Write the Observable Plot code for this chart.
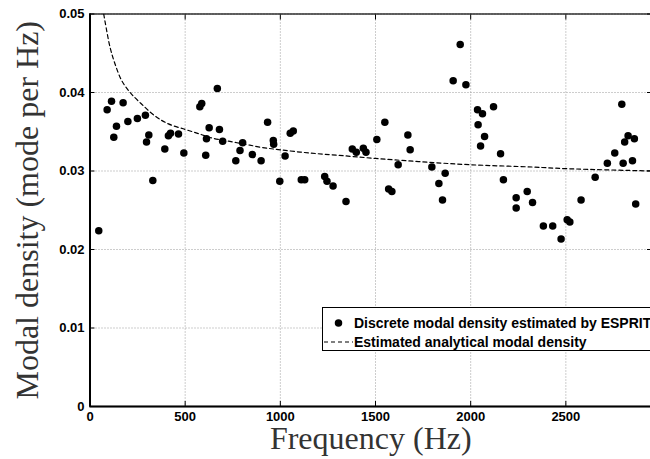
<!DOCTYPE html>
<html><head><meta charset="utf-8">
<script src="https://cdn.jsdelivr.net/npm/d3@7"></script>
<script src="https://cdn.jsdelivr.net/npm/@observablehq/plot@0.6"></script>
<style>
html,body{margin:0;padding:0;background:#fff;overflow:hidden;width:650px;height:459px}
#wrap{position:relative;width:650px;height:459px;overflow:hidden}
#wrap > svg{display:block;max-width:none !important;height:459px !important}
#legend{position:absolute;left:322px;top:307px;width:345px;height:44px;border:1px solid #000;background:#fff;box-sizing:border-box;font:bold 14px "Liberation Sans",Arial,sans-serif;color:#000}
#legend .row{position:absolute;left:0;height:18px;display:flex;align-items:center;white-space:nowrap}
#legend .row svg{display:block;flex:none}
</style></head><body><div id="wrap"></div>
<script>
// Discrete modal density estimated by ESPRIT
const freqs = [46,90,113,125,139,174,199,249,291,297,309,330,393,412,423,465,493,577,587,608,612,626,669,680,697,766,788,802,853,899,933,963,965,997,1025,1052,1068,1110,1128,1233,1245,1277,1345,1378,1399,1436,1450,1507,1549,1569,1586,1619,1670,1682,1796,1833,1852,1866,1908,1945,1975,2036,2039,2052,2062,2073,2120,2157,2172,2239,2239,2297,2325,2382,2431,2475,2507,2521,2580,2654,2718,2757,2794,2801,2809,2827,2850,2860,2867];
const densities = [0.0224,0.0378,0.0389,0.0343,0.0357,0.0387,0.0363,0.0367,0.0371,0.0337,0.0346,0.0288,0.0328,0.0345,0.0348,0.0347,0.0323,0.0382,0.0386,0.0320,0.0341,0.0355,0.0405,0.0353,0.0338,0.0313,0.0326,0.0336,0.0321,0.0313,0.0362,0.0339,0.0334,0.0287,0.0319,0.0348,0.0351,0.0289,0.0289,0.0293,0.0287,0.0281,0.0261,0.0328,0.0324,0.0329,0.0324,0.0340,0.0362,0.0277,0.0274,0.0308,0.0346,0.0327,0.0305,0.0284,0.0263,0.0297,0.0415,0.0461,0.0410,0.0378,0.0359,0.0332,0.0373,0.0344,0.0382,0.0322,0.0289,0.0266,0.0253,0.0274,0.0260,0.0230,0.0230,0.02135,0.0238,0.0235,0.0263,0.0292,0.0310,0.0323,0.0385,0.0310,0.0337,0.0345,0.0313,0.0341,0.0258];
// Estimated analytical modal density
const curveFreqs = [72,80,106,132,167,211,272,342,412,500,578,641,729,816,904,1000,1149,1306,1499,1726,1997,2330,2498,2950];
const curveDensities = [0.0500,0.0489,0.0457,0.0436,0.0415,0.0400,0.0385,0.0370,0.0360,0.0353,0.0347,0.0342,0.0338,0.0334,0.0330,0.0327,0.0323,0.0320,0.0316,0.0312,0.0308,0.0305,0.0303,0.0300];
const xTicks = [0,500,1000,1500,2000,2500];
const yTicks = [0,0.01,0.02,0.03,0.04,0.05];
const xTickLabels = ["0","500","1000","1500","2000","2500"];
const yTickLabels = ["0","0.01","0.02","0.03","0.04","0.05"];
const xLabel = "Frequency (Hz)";
const yLabel = "Modal density (mode per Hz)";
const legendLabels = ["Discrete modal density estimated by ESPRIT","Estimated analytical modal density"];

const points = freqs.map((f,i)=>({f, d: densities[i]}));
const curve = curveFreqs.map((f,i)=>({f, d: curveDensities[i]}));
const serif = "'Liberation Serif','Times New Roman',serif";
const sans = "'Liberation Sans',Arial,sans-serif";

const chart = Plot.plot({
  width: 653, height: 459,
  marginLeft: 89.5, marginRight: 2, marginTop: 13.5, marginBottom: 53,
  style: {fontFamily: sans, fontSize: "13px", color: "#000", background: "#fff"},
  x: {domain: [0, 2950]},
  y: {domain: [0, 0.05]},
  marks: [
    Plot.gridX(xTicks.slice(1), {stroke: "#9a9a9a", strokeOpacity: 1, strokeDasharray: "1,2", strokeWidth: 1}),
    Plot.gridY(yTicks.slice(1), {stroke: "#9a9a9a", strokeOpacity: 1, strokeDasharray: "1,2", strokeWidth: 1}),
    Plot.line(curve, {x: "f", y: "d", stroke: "#000", strokeWidth: 1.2, strokeDasharray: "4,3", curve: "catmull-rom", clip: true}),
    Plot.dot(points, {x: "f", y: "d", r: 3.75, fill: "#000", stroke: "none"}),
    Plot.frame({stroke: "#000", strokeWidth: 1.2}),
    Plot.ruleX([0], {stroke: "#000", strokeWidth: 2}),
    Plot.ruleY([0], {stroke: "#000", strokeWidth: 2}),
    Plot.axisX({anchor: "bottom", ticks: xTicks, tickSize: -5, tickPadding: 10, fontWeight: "bold", fontSize: 13, tickFormat: (d)=> xTickLabels[xTicks.indexOf(d)], label: null}),
    Plot.axisX({anchor: "top", ticks: xTicks, tickSize: -5, tickFormat: ()=> "", label: null}),
    Plot.axisY({anchor: "left", ticks: yTicks, tickSize: -5, tickPadding: 10.5, fontWeight: "bold", fontSize: 13, tickFormat: (d)=> yTickLabels[yTicks.findIndex(t=>Math.abs(t-d)<1e-9)], label: null}),
    Plot.axisY({anchor: "right", ticks: yTicks, tickSize: -5, tickFormat: ()=> "", label: null}),
    Plot.text([xLabel], {frameAnchor: "bottom", text: d=>d, dy: 32, lineAnchor: "middle", fontFamily: serif, fontSize: 32, fontWeight: "normal", fill: "#333", textAnchor: "middle"}),
    Plot.text([yLabel], {frameAnchor: "left", text: d=>d, dx: -62.5, rotate: -90, lineAnchor: "middle", fontFamily: serif, fontSize: 32, fontWeight: "normal", fill: "#333", textAnchor: "middle"})
  ]
});

const wrap = document.getElementById("wrap");
wrap.appendChild(chart);

const legend = document.createElement("div");
legend.id = "legend";
legend.innerHTML =
  `<div class="row" style="top:6px"><svg width="31" height="18"><circle cx="15.5" cy="9" r="3.75" fill="#000"/></svg><span>${legendLabels[0]}</span></div>` +
  `<div class="row" style="top:25px"><svg width="31" height="18"><line x1="1" y1="9" x2="30" y2="9" stroke="#000" stroke-width="1.2" stroke-dasharray="4,3"/></svg><span>${legendLabels[1]}</span></div>`;
wrap.appendChild(legend);
</script>
</body></html>
